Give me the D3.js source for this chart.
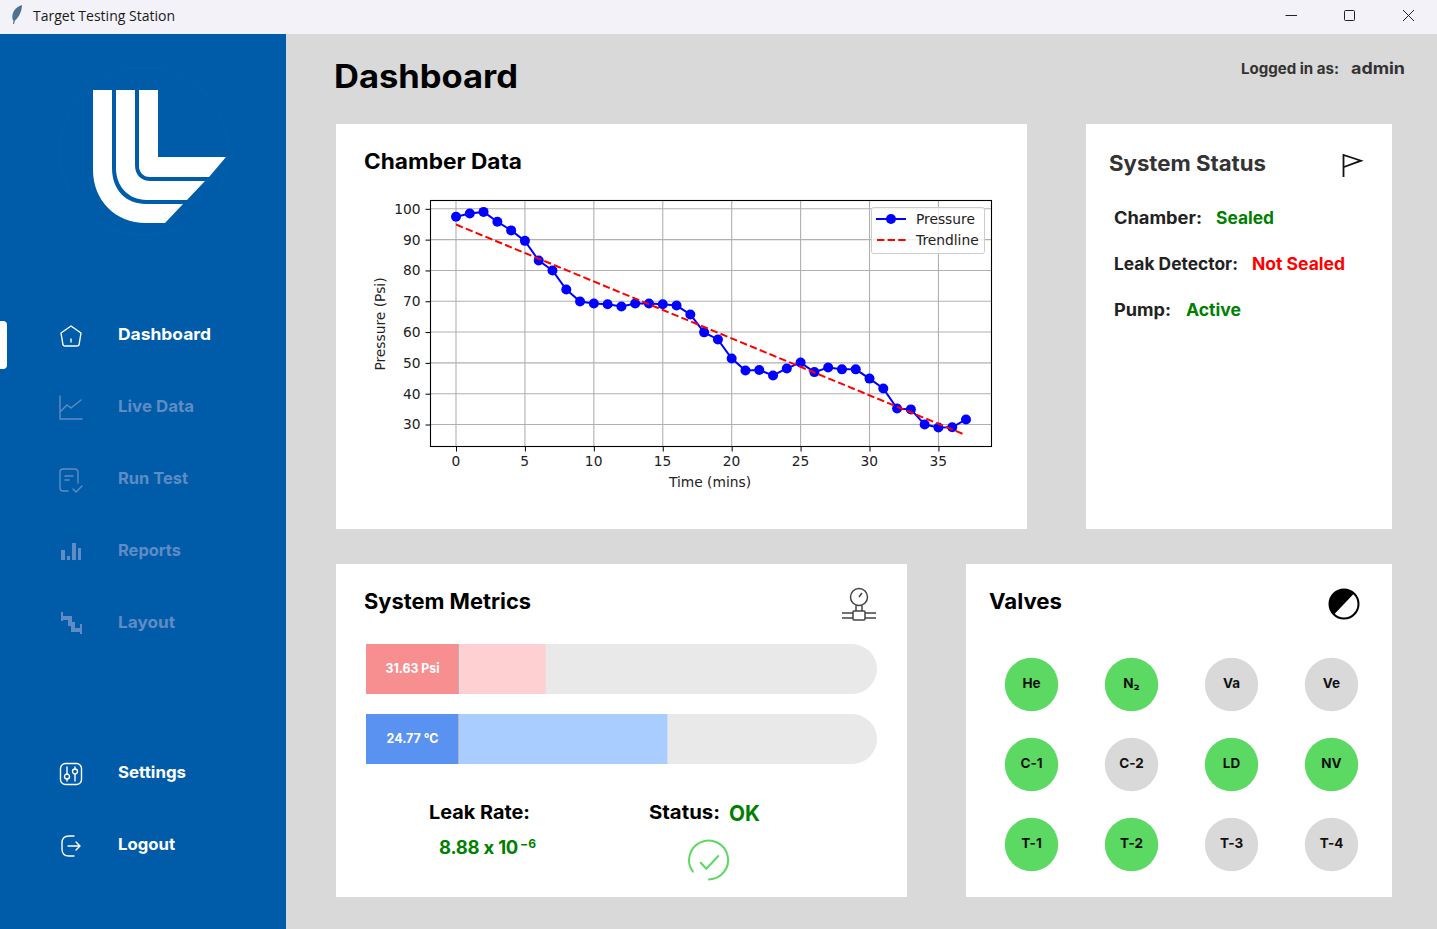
<!DOCTYPE html>
<html>
<head>
<meta charset="utf-8">
<title>Target Testing Station</title>
<script src="https://cdn.jsdelivr.net/npm/d3@7"></script>
<style>
  html, body { margin: 0; padding: 0; background: #d9d9d9; overflow: hidden; }
  svg { display: block; }
  .ui { font-family: Inter, "Noto Sans", sans-serif; font-weight: 700; font-feature-settings: "calt" 0; }
  .plot text { font-family: "DejaVu Sans", sans-serif; font-size: 13.8px; fill: #222; }
</style>
</head>
<body>
<svg id="page" width="1437" height="929"></svg>
<script>
// chart values
const minutes = d3.range(0, 38);
const pressure = [97.4, 98.5, 99.0, 95.8, 93.0, 89.6, 83.2, 80.0, 73.8, 69.9,
  69.3, 69.0, 68.3, 69.3, 69.3, 69.0, 68.6, 65.7, 59.9, 57.6,
  51.4, 47.5, 47.7, 45.9, 48.2, 50.1, 47.0, 48.5, 47.9, 47.9,
  44.9, 41.7, 35.2, 34.9, 30.0, 29.0, 29.1, 31.63];
const trendMinutes = [0, 36.8];
const trendValues = [94.9, 26.9];
const xTicks = [0, 5, 10, 15, 20, 25, 30, 35];
const yTicks = [30, 40, 50, 60, 70, 80, 90, 100];

// side menu
const navTop = ["Dashboard", "Live Data", "Run Test", "Reports", "Layout"];
const navBottom = ["Settings", "Logout"];
const navWidths = { "Dashboard": 93, "Live Data": 76, "Run Test": 70, "Reports": 63, "Layout": 57, "Settings": 68, "Logout": 57 };

// status list
const statusNames = ["Chamber:", "Leak Detector:", "Pump:"];
const statusValues = ["Sealed", "Not Sealed", "Active"];

// metric bars
const metricLabels = ["31.63 Psi", "24.77 °C"];
const metricValues = [31.63, 24.77];
const metricMax = [90, 42];

// valves, row by row
const valveNames = ["He", "N₂", "Va", "Ve", "C-1", "C-2", "LD", "NV", "T-1", "T-2", "T-3", "T-4"];
const valveOpen = [1, 1, 0, 0, 1, 0, 1, 1, 1, 1, 0, 0];

const green = "#008000";
const lime = "#5bd962";
const blue = "#005ca8";
const dim = "#5f8cc4";

const svg = d3.select("#page");

// helper for the ui text, w is the width it takes in the picture
function label(parent, x, y, str, size, color, w, anchor) {
  let t = parent.append("text")
    .attr("class", "ui")
    .attr("x", x).attr("y", y)
    .attr("font-size", size)
    .attr("fill", color)
    .attr("text-anchor", anchor || "start")
    .text(str);
  if (w) t.attr("textLength", w).attr("lengthAdjust", "spacingAndGlyphs");
  return t;
}

function panel(x, y, w, h) {
  svg.append("rect").attr("x", x).attr("y", y).attr("width", w).attr("height", h).attr("fill", "#fff");
}

function buildFrame() {
  svg.append("rect").attr("width", 1437).attr("height", 929).attr("fill", "#d9d9d9");
  svg.append("rect").attr("width", 1437).attr("height", 34).attr("fill", "#f3f2f8");
  svg.append("rect").attr("y", 34).attr("width", 286).attr("height", 895).attr("fill", blue);

  // title bar
  svg.append("path")
    .attr("d", "M22,5 C15,7 11.5,13 12.5,19 L13.5,21 L13,24 L14,24 L15,20.5 C19.5,17 22,10 22,5 Z")
    .attr("fill", "#4f6f93");
  svg.append("text").attr("x", 33).attr("y", 21)
    .attr("font-family", "'Open Sans', 'Noto Sans', sans-serif").attr("font-size", 14).attr("fill", "#1a1a1a")
    .attr("textLength", 142).attr("lengthAdjust", "spacingAndGlyphs")
    .text("Target Testing Station");
  let win = svg.append("g").attr("fill", "none").attr("stroke", "#222").attr("stroke-width", 1);
  win.append("path").attr("d", "M1285.5,15.5 H1297");
  win.append("rect").attr("x", 1344.5).attr("y", 10.5).attr("width", 10).attr("height", 10).attr("rx", 1);
  win.append("path").attr("d", "M1403,10 L1414,21 M1414,10 L1403,21");

  label(svg, 334, 88, "Dashboard", 32, "#000", 184);
  label(svg, 1241, 74, "Logged in as:", 15, "#333", 98);
  label(svg, 1351, 74, "admin", 16.5, "#333", 54);
}

function buildLogo() {
  svg.append("circle").attr("cx", 144).attr("cy", 151).attr("r", 84)
    .attr("fill", "none").attr("stroke", "#065fab").attr("stroke-width", 1);
  let logo = svg.append("g").attr("fill", "#fff");
  logo.append("path").attr("d", "M93,90 H112 V168 C112,190 126,204 146,204 H183 L165,223 H146 C115,223 93,200 93,170 Z");
  logo.append("path").attr("d", "M116,90 H135 V165 C135,175 141,181 151,181 H205 L187,200 H147 C128,200 116,186 116,168 Z");
  logo.append("path").attr("d", "M139,90 H158 V157 H226 L209,177 H150 C143,177 139,172 139,166 Z");
}

function navIcon(name, cx, cy, color) {
  let g = svg.append("g").attr("transform", `translate(${cx},${cy})`)
    .attr("fill", "none").attr("stroke", color).attr("stroke-width", 1.4)
    .attr("stroke-linecap", "round").attr("stroke-linejoin", "round");
  if (name == "Dashboard") {
    g.append("path").attr("d", "M0,-10 L10,-3 L8,9 Q7.6,10 6,10 H-6 Q-7.6,10 -8,9 L-10,-3 Z");
    g.append("path").attr("d", "M0,3 V6");
  } else if (name == "Live Data") {
    g.append("path").attr("d", "M-11,-12 V11 H11");
    g.append("path").attr("d", "M-10,3 L-4,-3 L0,0 L10,-8");
  } else if (name == "Run Test") {
    g.append("path").attr("d", "M-3,11 H-8 Q-11,11 -11,8 V-8 Q-11,-11 -8,-11 H3 Q7,-11 7,-8 V3");
    g.append("path").attr("d", "M-6,-4 H2 M-6,0 H-2");
    g.append("path").attr("d", "M2,9 L5,12 L11,6");
  } else if (name == "Reports") {
    g.attr("fill", color).attr("stroke", "none");
    [[-10, -2, 4, 10], [-4, 4, 3, 4], [1, -9, 4, 17], [7, -4, 3, 12]].forEach(b => {
      g.append("rect").attr("x", b[0]).attr("y", b[1]).attr("width", b[2]).attr("height", b[3]);
    });
  } else if (name == "Layout") {
    g.attr("stroke-width", 4).attr("stroke-linecap", "butt").attr("stroke-linejoin", "miter");
    g.append("path").attr("d", "M-10,-6 H-1 V0 H2 V6 H11");
    g.append("path").attr("stroke-width", 2).attr("d", "M-9,-12 V-3 M10,0 V10");
  } else if (name == "Settings") {
    g.append("rect").attr("x", -10.5).attr("y", -10.5).attr("width", 21).attr("height", 21).attr("rx", 5);
    g.append("path").attr("d", "M-4,-7 V0 M-4,5 V7 M4,-7 V-5 M4,0 V7");
    g.append("circle").attr("cx", -4).attr("cy", 2.5).attr("r", 2.5);
    g.append("circle").attr("cx", 4).attr("cy", -2.5).attr("r", 2.5);
  } else if (name == "Logout") {
    g.append("path").attr("d", "M3,-10 H-2 Q-9,-10 -9,-3 V3 Q-9,10 -2,10 H3");
    g.append("path").attr("d", "M-3,0 H9 M5,-4 L9,0 L5,4");
  }
}

function buildNav() {
  svg.append("path").attr("d", "M0,321 H3 Q7,321 7,325 V365 Q7,369 3,369 H0 Z").attr("fill", "#fff");
  navTop.forEach((name, i) => {
    let cy = 334 + i * 72;
    let color = i == 0 ? "#fff" : dim;
    navIcon(name, 71, cy + 2, color);
    label(svg, 118, cy + 6, name, 16.5, color, navWidths[name]);
  });
  navBottom.forEach((name, i) => {
    let cy = 772 + i * 72;
    navIcon(name, 71, cy + 2, "#fff");
    label(svg, 118, cy + 6, name, 16.5, "#fff", navWidths[name]);
  });
}

function buildChart() {
  panel(336, 124, 691, 405);
  label(svg, 364, 169, "Chamber Data", 21, "#000", 158);

  let left = 430.5, right = 991.5, top = 200.5, bottom = 446.5;
  let x = d3.scaleLinear().domain([-1.85, 38.85]).range([left, right]);
  let y = d3.scaleLinear().domain([22.86, 102.7]).range([bottom, top]);
  let plot = svg.append("g").attr("class", "plot");

  // grid first so the lines sit on top
  plot.append("g").selectAll("line").data(xTicks).join("line")
    .attr("x1", d => x(d)).attr("x2", d => x(d)).attr("y1", top).attr("y2", bottom)
    .attr("stroke", "#b0b0b0").attr("stroke-width", 1.1);
  plot.append("g").selectAll("line").data(yTicks).join("line")
    .attr("x1", left).attr("x2", right).attr("y1", d => y(d)).attr("y2", d => y(d))
    .attr("stroke", "#b0b0b0").attr("stroke-width", 1.1);

  let xAxis = plot.append("g").attr("transform", `translate(0,${bottom})`)
    .call(d3.axisBottom(x).tickValues(xTicks).tickFormat(d3.format("d")).tickSize(5).tickPadding(5));
  let yAxis = plot.append("g").attr("transform", `translate(${left},0)`)
    .call(d3.axisLeft(y).tickValues(yTicks).tickFormat(d3.format("d")).tickSize(5).tickPadding(5));
  xAxis.select(".domain").remove();
  yAxis.select(".domain").remove();
  xAxis.selectAll(".tick text").attr("dx", -0.7);
  plot.selectAll(".tick text").style("font-family", "'DejaVu Sans', sans-serif").style("font-size", "13.8px").attr("fill", "#222");

  plot.append("rect").attr("x", left).attr("y", top).attr("width", right - left).attr("height", bottom - top)
    .attr("fill", "none").attr("stroke", "#000").attr("stroke-width", 1.1);

  let line = d3.line().x(d => x(d[0])).y(d => y(d[1]));
  plot.append("path").datum(d3.zip(minutes, pressure)).attr("d", line)
    .attr("fill", "none").attr("stroke", "#0000ff").attr("stroke-width", 2);
  plot.append("g").selectAll("circle").data(d3.zip(minutes, pressure)).join("circle")
    .attr("cx", d => x(d[0])).attr("cy", d => y(d[1])).attr("r", 5).attr("fill", "#0000ff");
  plot.append("path").datum(d3.zip(trendMinutes, trendValues)).attr("d", line)
    .attr("fill", "none").attr("stroke", "#ff0000").attr("stroke-width", 2).attr("stroke-dasharray", "7.4,3.2");

  plot.append("text").attr("x", 710).attr("y", 487).attr("text-anchor", "middle").text("Time (mins)");
  plot.append("text").attr("transform", "translate(385,324) rotate(-90)").attr("text-anchor", "middle").text("Pressure (Psi)");

  // legend
  plot.append("rect").attr("x", 871.5).attr("y", 207.5).attr("width", 113).attr("height", 46).attr("rx", 2)
    .attr("fill", "#fff").attr("fill-opacity", 0.8).attr("stroke", "#ccc");
  plot.append("line").attr("x1", 876).attr("x2", 906).attr("y1", 219).attr("y2", 219)
    .attr("stroke", "#0000ff").attr("stroke-width", 2);
  plot.append("circle").attr("cx", 891).attr("cy", 219).attr("r", 5).attr("fill", "#0000ff");
  plot.append("line").attr("x1", 877).attr("x2", 906).attr("y1", 240).attr("y2", 240)
    .attr("stroke", "#ff0000").attr("stroke-width", 2).attr("stroke-dasharray", "7.4,3.2");
  plot.append("text").attr("x", 916).attr("y", 224).text("Pressure");
  plot.append("text").attr("x", 916).attr("y", 245).text("Trendline");
}

function buildStatus() {
  panel(1086, 124, 306, 405);
  label(svg, 1109, 171, "System Status", 21, "#333", 157);
  svg.append("path").attr("d", "M1343.5,177 V155 L1361,160.7 L1344,167")
    .attr("fill", "none").attr("stroke", "#111").attr("stroke-width", 1.8);

  let nameW = [88, 124, 57];
  let valX = [1216, 1252, 1186];
  let valW = [58, 93, 55];
  let valColor = [green, "#ff0000", green];
  statusNames.forEach((name, i) => {
    let base = 224 + i * 46;
    label(svg, 1114, base, name, 17, "#222", nameW[i]);
    label(svg, valX[i], base, statusValues[i], 17, valColor[i], valW[i]);
  });
}

function buildMetrics() {
  panel(336, 564, 571, 333);
  label(svg, 364, 609, "System Metrics", 21, "#000", 167);

  // gauge icon
  let g = svg.append("g").attr("fill", "none").attr("stroke", "#444").attr("stroke-width", 1.5);
  g.append("circle").attr("cx", 859).attr("cy", 597).attr("r", 8.5);
  g.append("path").attr("d", "M859,597 L862,593");
  g.append("path").attr("d", "M856,605.5 V611 M862,605.5 V611");
  g.append("rect").attr("x", 853).attr("y", 611).attr("width", 12).attr("height", 9).attr("rx", 1);
  g.append("path").attr("d", "M842,613 H853 M842,618 H853 M865,613 H876 M865,618 H876");

  let barX = 366, barW = 511, barH = 50, boxW = 92;
  let tops = [644, 714];
  let light = ["#ffd0d2", "#a9cdff"];
  let dark = ["#f78f91", "#5a92f2"];
  metricValues.forEach((v, i) => {
    let w = d3.scaleLinear().domain([0, metricMax[i]]).range([0, barW]);
    let y0 = tops[i];
    svg.append("path")
      .attr("d", `M${barX},${y0} H${barX + barW - 25} A25,25 0 0 1 ${barX + barW - 25},${y0 + barH} H${barX} Z`)
      .attr("fill", "#e9e9e9");
    svg.append("rect").attr("x", barX).attr("y", y0).attr("width", w(v)).attr("height", barH).attr("fill", light[i]);
    svg.append("rect").attr("x", barX).attr("y", y0).attr("width", boxW).attr("height", barH).attr("fill", dark[i]);
    svg.append("rect").attr("x", barX + boxW).attr("y", y0).attr("width", 1).attr("height", barH).attr("fill", "#b5b5b5");
    label(svg, 412.5, y0 + 29, metricLabels[i], 13, "#fff", i == 0 ? 54 : 52, "middle");
  });

  label(svg, 429, 819, "Leak Rate:", 19, "#000", 101);
  // smaller size so the base text stops before the exponent
  label(svg, 439, 854, "8.88 x 10", 18.5, green).style("letter-spacing", "-0.25px");
  label(svg, 520, 848, "−6", 12, green);
  label(svg, 649, 819, "Status:", 19, "#000", 71);
  label(svg, 729, 821, "OK", 22, green, 31);

  // ok icon
  svg.append("path").attr("d", "M692.9,871.6 A19.5,19.5 0 1 1 709,879.5")
    .attr("fill", "none").attr("stroke", lime).attr("stroke-width", 2).attr("stroke-linecap", "round");
  svg.append("path").attr("d", "M700.7,862.7 L706.3,868.7 L718.3,856")
    .attr("fill", "none").attr("stroke", lime).attr("stroke-width", 2).attr("stroke-linecap", "round");
}

function buildValves() {
  panel(966, 564, 426, 333);
  label(svg, 989, 609, "Valves", 21, "#000", 73);

  svg.append("circle").attr("cx", 1344).attr("cy", 604).attr("r", 14.5)
    .attr("fill", "#fff").attr("stroke", "#000").attr("stroke-width", 2);
  svg.append("path").attr("d", "M1334,614.5 A14.5,14.5 0 0 1 1354,593.5 Z").attr("fill", "#000");

  let col = d3.scalePoint().domain(d3.range(4)).range([1031.5, 1331.5]);
  let row = d3.scalePoint().domain(d3.range(3)).range([684.5, 844.5]);
  let cells = svg.append("g").selectAll("g").data(valveNames).join("g")
    .attr("transform", (d, i) => `translate(${col(i % 4)},${row(Math.floor(i / 4))})`);
  cells.append("circle").attr("r", 26.7).attr("fill", (d, i) => valveOpen[i] ? lime : "#d9d9d9");
  cells.append("text").attr("class", "ui").attr("text-anchor", "middle").attr("y", 3.8)
    .attr("font-size", 13.5).attr("fill", "#111").text(d => d);
}

buildFrame();
buildLogo();
buildNav();
buildChart();
buildStatus();
buildMetrics();
buildValves();
</script>
</body>
</html>
